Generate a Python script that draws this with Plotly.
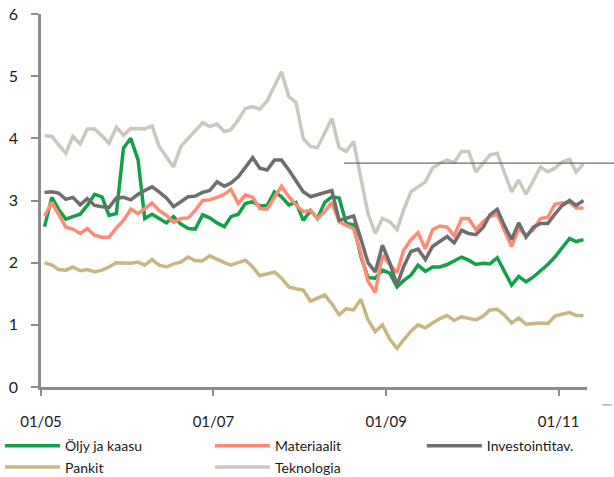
import pandas as pd
import plotly.graph_objects as go

# Monthly observations, Jan 2005 .. Apr 2011 (76 months)
months = pd.date_range("2005-01-01", periods=76, freq="MS") + pd.Timedelta(days=15)

oljy = [2.58, 3.05, 2.86, 2.70, 2.74, 2.78, 2.92, 3.10, 3.06, 2.76, 2.79, 3.84, 4.00, 3.65, 2.71, 2.78,
        2.71, 2.64, 2.74, 2.62, 2.55, 2.54, 2.77, 2.72, 2.64, 2.58, 2.74, 2.78, 2.95, 2.98, 2.91, 2.92,
        3.14, 3.06, 2.93, 2.97, 2.68, 2.84, 2.71, 2.97, 3.06, 3.04, 2.63, 2.61, 2.10, 1.76, 1.75, 1.88,
        1.83, 1.61, 1.71, 1.80, 1.96, 1.86, 1.93, 1.93, 1.97, 2.03, 2.09, 2.04, 1.97, 1.99, 1.98, 2.08,
        1.87, 1.64, 1.78, 1.69, 1.77, 1.87, 1.97, 2.09, 2.24, 2.39, 2.34, 2.37]

materiaalit = [2.75, 2.97, 2.78, 2.57, 2.54, 2.47, 2.55, 2.44, 2.41, 2.41, 2.56, 2.68, 2.86, 2.79, 2.87, 2.96,
               2.84, 2.76, 2.65, 2.71, 2.72, 2.84, 3.00, 3.01, 3.05, 3.10, 3.18, 2.95, 3.09, 3.05, 2.87, 2.86,
               3.05, 3.23, 3.06, 2.93, 2.82, 2.84, 2.71, 2.82, 2.97, 2.66, 2.60, 2.55, 2.15, 1.70, 1.52, 2.12,
               1.97, 1.84, 2.20, 2.37, 2.48, 2.22, 2.53, 2.59, 2.57, 2.43, 2.71, 2.71, 2.53, 2.66, 2.74, 2.78,
               2.52, 2.26, 2.55, 2.44, 2.53, 2.71, 2.73, 2.94, 2.96, 2.97, 2.88, 2.88]

investointi = [3.13, 3.14, 3.12, 3.02, 3.05, 2.93, 3.03, 2.92, 2.90, 2.89, 3.04, 3.05, 3.01, 3.10, 3.16, 3.22,
               3.14, 3.04, 2.90, 2.98, 3.06, 3.07, 3.13, 3.16, 3.30, 3.23, 3.28, 3.38, 3.53, 3.69, 3.52, 3.49,
               3.65, 3.65, 3.49, 3.31, 3.14, 3.06, 3.09, 3.13, 3.16, 2.68, 2.71, 2.75, 2.38, 2.00, 1.85, 2.28,
               2.00, 1.64, 1.94, 2.18, 2.22, 2.05, 2.26, 2.34, 2.42, 2.32, 2.52, 2.47, 2.45, 2.57, 2.77, 2.86,
               2.60, 2.37, 2.64, 2.41, 2.57, 2.63, 2.63, 2.78, 2.92, 3.00, 2.92, 3.00]

pankit = [2.00, 1.96, 1.89, 1.88, 1.93, 1.87, 1.89, 1.85, 1.88, 1.93, 2.00, 2.00, 1.99, 2.01, 1.96, 2.05,
          1.96, 1.93, 1.98, 2.01, 2.09, 2.03, 2.03, 2.11, 2.05, 2.00, 1.96, 2.00, 2.04, 1.93, 1.79, 1.82,
          1.85, 1.75, 1.61, 1.58, 1.56, 1.38, 1.43, 1.48, 1.34, 1.16, 1.26, 1.24, 1.41, 1.08, 0.89, 1.00,
          0.77, 0.62, 0.76, 0.90, 1.00, 0.95, 1.03, 1.10, 1.15, 1.07, 1.13, 1.10, 1.08, 1.14, 1.24, 1.25,
          1.16, 1.03, 1.11, 1.01, 1.02, 1.03, 1.02, 1.14, 1.17, 1.20, 1.15, 1.15]

teknologia = [4.04, 4.03, 3.90, 3.76, 4.03, 3.91, 4.15, 4.15, 4.04, 3.92, 4.18, 4.05, 4.16, 4.15, 4.15, 4.20,
              3.87, 3.70, 3.54, 3.87, 4.00, 4.12, 4.25, 4.19, 4.23, 4.11, 4.14, 4.30, 4.48, 4.51, 4.47, 4.60,
              4.85, 5.07, 4.67, 4.58, 4.00, 3.87, 3.85, 4.08, 4.32, 3.85, 3.79, 3.95, 3.38, 2.79, 2.47, 2.71,
              2.66, 2.53, 2.85, 3.14, 3.22, 3.30, 3.52, 3.60, 3.65, 3.61, 3.79, 3.79, 3.46, 3.60, 3.73, 3.76,
              3.45, 3.14, 3.33, 3.10, 3.32, 3.54, 3.46, 3.52, 3.62, 3.66, 3.46, 3.59]

series_names = ["Öljy ja kaasu", "Materiaalit", "Investointitav.", "Pankit", "Teknologia"]
series_values = [oljy, materiaalit, investointi, pankit, teknologia]
series_colors = ["#13A04A", "#FF8B76", "#6E6E6E", "#C8B783", "#C8C8BD"]
# legend column of each series (three columns, two rows)
series_legend = ["legend", "legend2", "legend3", "legend", "legend2"]

tick_dates = ["2005-01-01", "2007-01-01", "2009-01-01", "2011-01-01"]
tick_labels = ["01/05", "01/07", "01/09", "01/11"]
y_ticks = [0, 1, 2, 3, 4, 5, 6]
ref_level = 3.6

FONT = "Lato, 'Open Sans', sans-serif"
AXIS = "#8C8C8C"

fig = go.Figure()
# draw order so that lighter lines sit behind
order = [4, 3, 0, 1, 2]
for k in order:
    fig.add_trace(go.Scatter(
        x=months, y=series_values[k], mode="lines", name=series_names[k],
        line=dict(color=series_colors[k], width=3.5),
        legend=series_legend[k], legendrank=k + 1, hoverinfo="skip",
    ))


def legend_col(xpos):
    return dict(
        orientation="v", xref="container", yref="container",
        x=xpos, xanchor="left", y=0.098, yanchor="top",
        itemwidth=55, font=dict(family=FONT, size=14, color="#1a1a1a"),
        traceorder="normal", bgcolor="rgba(0,0,0,0)", tracegroupgap=0,
    )


fig.update_layout(
    width=614, height=477,
    margin=dict(l=41, r=27, t=14, b=90, autoexpand=False),
    paper_bgcolor="white", plot_bgcolor="white",
    font=dict(family=FONT, size=15, color="#1a1a1a"),
    showlegend=True,
    legend=legend_col(0.0),
    legend2=legend_col(0.342),
    legend3=legend_col(0.687),
    xaxis=dict(
        type="date", range=["2005-01-01", "2011-05-01"],
        tickvals=tick_dates, ticktext=tick_labels,
        showgrid=False, zeroline=False, automargin=False,
        showline=True, linecolor=AXIS, linewidth=2.5,
        ticks="outside", ticklen=6, tickwidth=2, tickcolor=AXIS,
        ticklabelstandoff=13,
        tickfont=dict(family=FONT, size=15, color="#1a1a1a"),
    ),
    yaxis=dict(
        range=[0, 6], tickvals=y_ticks,
        showgrid=False, zeroline=False, automargin=False,
        showline=True, linecolor=AXIS, linewidth=2.5,
        ticks="outside", ticklen=7, tickwidth=2, tickcolor=AXIS,
        ticklabelstandoff=10,
        tickfont=dict(family=FONT, size=16, color="#1a1a1a"),
    ),
    shapes=[
        dict(type="line", xref="paper", yref="y", x0=0.555, x1=1.05, y0=ref_level, y1=ref_level,
             line=dict(color="#6E6E6E", width=1.2)),
        dict(type="line", xref="paper", yref="paper", x0=1.028, x1=1.046, y0=-0.048, y1=-0.048,
             line=dict(color="#8C8C8C", width=1)),
    ],
)

fig.write_html("out.html", config={"displayModeBar": False},
               post_script="document.body.style.margin='0';")
